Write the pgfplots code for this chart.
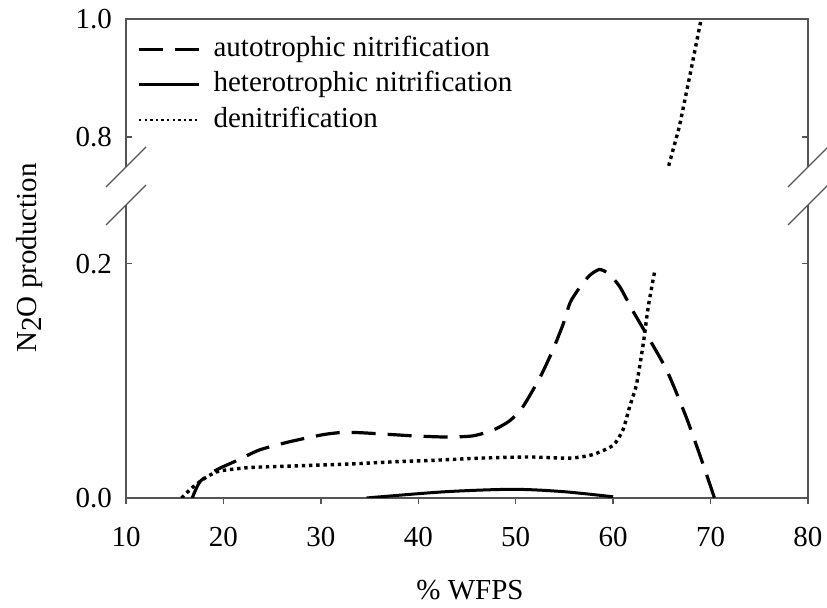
\documentclass[border=0pt]{standalone}
\usepackage{fontspec}
\setmainfont{Liberation Serif}
\usepackage{pgfplots}
\pgfplotsset{compat=1.18}
\newcommand\fs{\fontsize{14.5}{17}\selectfont}
\definecolor{axgray}{RGB}{85,85,85}
\pgfplotsset{
  brk/.style={
    scale only axis, width=341pt,
    xmin=10, xmax=80,
    axis line style={draw=none},
    clip mode=individual,
    major tick length=3.2pt,
    tick style={axgray, line width=0.7pt},
    tick label style={font=\fs},
    yticklabel style={xshift=-3.5pt},
    ytick pos=both, ytick align=inside,
  },
  autostyle/.style={black, line width=1.6pt, dash pattern=on 12pt off 6pt},
  hetstyle/.style={black, line width=1.5pt},
  denstyle/.style={black, line width=1.7pt, dash pattern=on 1.7pt off 1.9pt},
}
\begin{document}
\begin{tikzpicture}
% lower panel
\begin{axis}[brk, at={(63pt,55pt)}, anchor=south west, height=146.5pt,
  ymin=0, ymax=0.25,
  xtick={10,20,30,40,50,60,70,80},
  xticklabels={10,20,30,40,50,60,70,80},
  xticklabel style={yshift=-8pt},
  xtick pos=bottom, xtick align=outside,
  ytick={0,0.2}, yticklabels={0.0,0.2},
]
\draw[axgray, line width=0.8pt] (rel axis cs:0,1) -- (rel axis cs:0,0) -- (rel axis cs:1,0) -- (rel axis cs:1,1);
\addplot[autostyle, smooth, tension=0.4] coordinates {
(16.8,0) (17.6,0.014) (19.3,0.024) (21.4,0.032) (23.7,0.041) (26.8,0.048)
(30.2,0.054) (32.3,0.056) (34.3,0.0556) (37.5,0.054) (39.5,0.053) (42.9,0.052)
(45.6,0.053) (47.7,0.058) (49.4,0.066) (50.75,0.078) (52.5,0.103) (53.8,0.126)
(54.9,0.149) (55.6,0.167) (56.6,0.180) (57.6,0.190) (58.6,0.195) (59.6,0.191)
(60.7,0.180) (62.0,0.160) (63.4,0.140) (65.5,0.109) (67.5,0.069) (69.2,0.0295) (70.4,0)
};
\addplot[hetstyle, smooth, tension=0.5] coordinates {
(34.7,0) (36.1,0.001) (42.9,0.0054) (49.7,0.0074) (54.9,0.0054) (60,0.001)
};
\addplot[denstyle, smooth, tension=0.4] coordinates {
(15.7,0) (16.9,0.0096) (18.3,0.018) (19.6,0.023) (22.7,0.026) (26.1,0.027)
(29.6,0.028) (33,0.029) (37.8,0.031) (41.2,0.032) (46.3,0.034) (51.4,0.035)
(55.5,0.034) (57.9,0.037) (60,0.045) (61.0,0.058) (61.7,0.078) (62.4,0.097)
(63.1,0.132) (63.6,0.163) (64.3,0.195)
};
\end{axis}
% upper panel
\begin{axis}[brk, at={(63pt,220.5pt)}, anchor=south west, height=74pt,
  ymin=0.749, ymax=1.0,
  xtick=\empty,
  ytick={0.8,1.0}, yticklabels={0.8,1.0},
  legend cell align=left,
  legend style={at={(axis description cs:0,1)}, anchor=north west,
    draw=none, fill=none, inner sep=0pt, xshift=5.5pt, yshift=-8pt,
    font=\fs, row sep=3.7pt,
    nodes={inner sep=0pt, text height=10.5pt, text depth=3.5pt}},
  legend image code/.code={\draw[#1] (0pt,0pt) -- (30pt,0pt); \path (36.5pt,0pt);},
]
\draw[axgray, line width=0.8pt] (rel axis cs:0,0) -- (rel axis cs:0,1) -- (rel axis cs:1,1) -- (rel axis cs:1,0);
\addlegendimage{autostyle}
\addlegendentry{autotrophic nitrification}
\addlegendimage{hetstyle}
\addlegendentry{heterotrophic nitrification}
\addlegendimage{denstyle, line width=1.2pt, dash pattern=on 1.2pt off 1.6pt}
\addlegendentry{denitrification}
\addplot[denstyle, forget plot] coordinates {
(65.7,0.751) (66.8,0.8175) (67.85,0.902) (69.0,0.997) (69.05,1.0)
};
\end{axis}
% axis break marks
\draw[axgray, line width=0.6pt] (53pt,210.5pt) -- (73pt,230.5pt);
\draw[axgray, line width=0.6pt] (53pt,191.5pt) -- (73pt,211.5pt);
\draw[axgray, line width=0.6pt] (394pt,210.5pt) -- (414pt,230.5pt);
\draw[axgray, line width=0.6pt] (394pt,191.5pt) -- (414pt,211.5pt);
% axis labels
\node[rotate=90, font=\fs, anchor=center] at (15pt,175pt) {N\raisebox{-0.35ex}{2}O production};
\node[font=\fs, anchor=base] at (235pt,4pt) {\% WFPS};
\pgfresetboundingbox
\path[use as bounding box] (0,0) rectangle (413.5pt,304pt);
\end{tikzpicture}
\end{document}
